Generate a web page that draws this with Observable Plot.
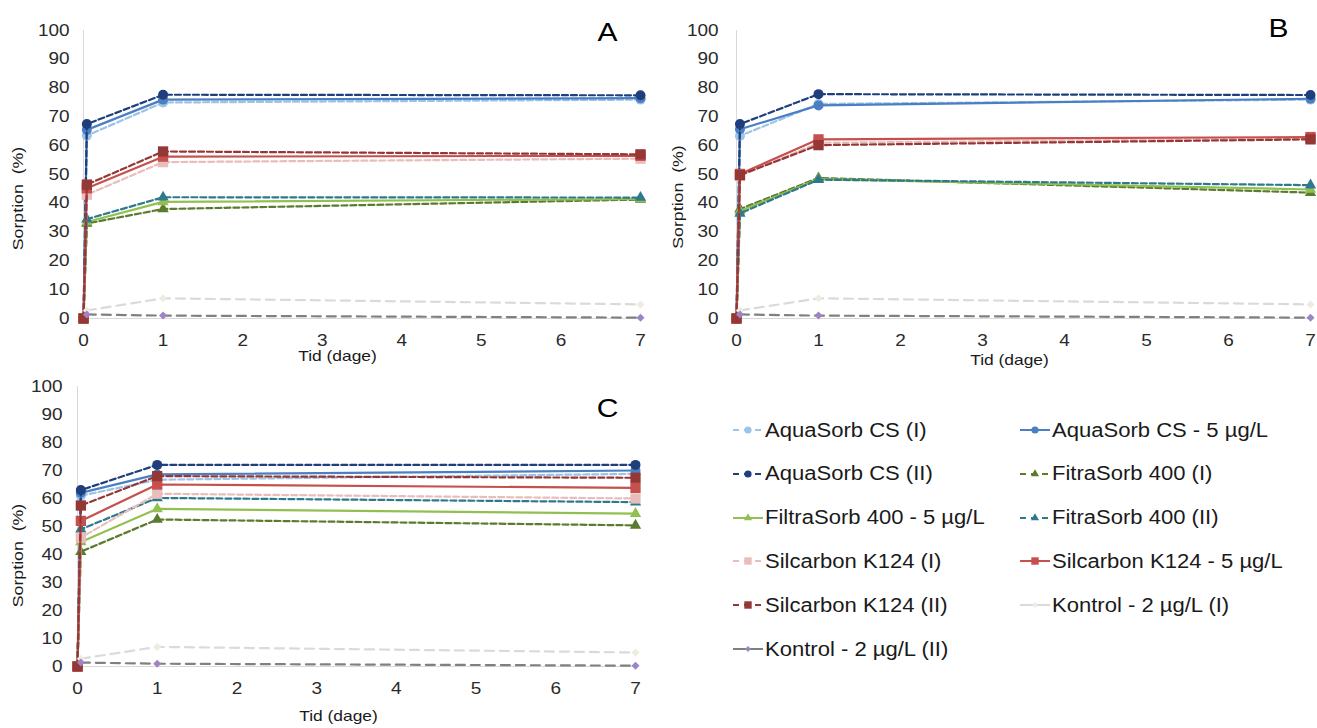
<!DOCTYPE html>
<html><head><meta charset="utf-8">
<script src="https://cdn.jsdelivr.net/npm/d3@7"></script>
<script src="https://cdn.jsdelivr.net/npm/@observablehq/plot@0.6"></script>
<style>
html,body{margin:0;padding:0;background:#fff;}
body{width:1317px;height:728px;position:relative;overflow:hidden;font-family:"Liberation Sans",Arial,sans-serif;}
.panel{position:absolute;}
.panel svg{overflow:visible;}
.item{position:absolute;height:26px;display:flex;align-items:center;white-space:nowrap;}
.item span{display:inline-block;font-size:19.5px;color:#1a1a1a;transform:scaleX(1.13);transform-origin:left center;margin-left:2px;}
</style></head><body>
<div id="pA" class="panel" style="left:0;top:0"></div>
<div id="pB" class="panel" style="left:660px;top:0"></div>
<div id="pC" class="panel" style="left:0;top:370px"></div>
<div id="legend"></div>
<script>
// ---------- data ----------
const seriesNames = ["AquaSorb CS (I)", "AquaSorb CS - 5 µg/L", "AquaSorb CS (II)", "FitraSorb 400 (I)", "FiltraSorb 400 - 5 µg/L", "FitraSorb 400 (II)", "Silcarbon K124 (I)", "Silcarbon K124 - 5 µg/L", "Silcarbon K124 (II)", "Kontrol - 2 µg/L (I)", "Kontrol - 2 µg/L (II)"];
const isKontrol = [false,false,false,false,false,false,false,false,false,true,true];
const times = [0, 0.042, 1, 7];
const kontrolTimes = [0.042, 1, 7];
const xTicks = [0,1,2,3,4,5,6,7];
const yTicks = [0,10,20,30,40,50,60,70,80,90,100];
const panelLetters = ["A","B","C"];
const xTitle = "Tid (dage)";
const yTitle = "Sorption  (%)";

const panelA = [
  [0, 63.5, 75.0, 76.0],
  [0, 65.5, 76.0, 76.5],
  [0, 67.5, 77.7, 77.5],
  [0, 33.0, 38.0, 41.3],
  [0, 33.5, 40.5, 41.5],
  [0, 34.5, 42.1, 42.0],
  [0, 43.0, 54.3, 55.5],
  [0, 45.2, 56.2, 56.5],
  [0, 46.5, 58.0, 57.0],
  [2.8, 7.0, 4.9],
  [1.4, 1.0, 0.3]
];
const panelB = [
  [0, 63.4, 74.5, 76.0],
  [0, 65.7, 74.0, 76.3],
  [0, 67.5, 77.9, 77.6],
  [0, 38.0, 48.8, 43.7],
  [0, 37.3, 48.4, 44.8],
  [0, 36.5, 48.2, 46.3],
  [0, 49.5, 61.0, 62.5],
  [0, 50.2, 62.2, 63.0],
  [0, 49.8, 60.2, 62.2],
  [2.8, 7.0, 4.9],
  [1.4, 1.0, 0.3]
];
const panelC = [
  [0, 61.0, 66.7, 68.8],
  [0, 62.0, 68.6, 70.0],
  [0, 63.0, 72.0, 72.0],
  [0, 41.0, 52.5, 50.4],
  [0, 44.5, 56.3, 54.6],
  [0, 49.0, 60.2, 58.7],
  [0, 46.0, 61.7, 60.0],
  [0, 52.0, 65.0, 63.8],
  [0, 57.5, 68.0, 67.4],
  [2.8, 7.0, 5.0],
  [1.4, 1.0, 0.3]
];

// ---------- styles ----------
const lineColors   = ["#9DC3E6","#4A7FC4","#1F3F7C","#5B7B2F","#92C050","#2E7A8C","#E8BDBC","#C6504D","#953735","#DADADA","#808080"];
const markerColors = ["#9DC3E6","#4A7FC4","#1F3F7C","#5B7B2F","#92C050","#2E7A8C","#E8BDBC","#C6504D","#953735","#EEECE1","#9B85C4"];
const lineDash     = ["6,3",null,"6,3","6,3",null,"6,3","6,3",null,"6,3","9,6","9,6"];
const symbols      = ["circle","circle","circle","triangle","triangle","triangle","square","square","square","diamond2","diamond2"];
const symbolR      = [5.0,5.0,5.0,4.2,4.2,4.2,5.8,5.8,5.8,3.6,3.6];

function stretch(svg, k) {
  svg.querySelectorAll("text").forEach(t => {
    const tr = t.getAttribute("transform") || "";
    if (tr.includes("rotate")) {
      t.setAttribute("transform", tr + ` scale(${k},1)`);
      return;
    }
    const L = t.getComputedTextLength();
    if (L > 0) {
      t.setAttribute("textLength", (L * k).toFixed(2));
      t.setAttribute("lengthAdjust", "spacingAndGlyphs");
    }
  });
}

function makePanel(values, letter, g) {
  const marks = [
    Plot.ruleX([0], {stroke: "#d9d9d9", strokeWidth: 1}),
    Plot.ruleY([0], {stroke: "#d9d9d9", strokeWidth: 1})
  ];
  seriesNames.forEach((name, i) => {
    const ts = isKontrol[i] ? kontrolTimes : times;
    const rows = values[i].map((v, j) => ({name, t: ts[j], v}));
    marks.push(Plot.line(rows, {x: "t", y: "v", stroke: lineColors[i], strokeWidth: 2.2,
      strokeDasharray: lineDash[i] || undefined}));
    marks.push(Plot.dot(rows, {x: "t", y: "v", symbol: symbols[i], r: symbolR[i],
      fill: markerColors[i], stroke: "none"}));
  });
  marks.push(Plot.text([xTitle], {text: d => d, frameAnchor: "bottom", textAnchor: "middle", dx: g.xlx, dy: g.xly, fontSize: 14.5, fill: "#1a1a1a"}));
  marks.push(Plot.text([yTitle], {text: d => d, frameAnchor: "left", textAnchor: "middle", lineAnchor: "middle", rotate: -90, dx: g.ylx, dy: g.yly, fontSize: 14.8, fill: "#1a1a1a"}));
  marks.push(Plot.text([letter], {text: d => d, frameAnchor: "top-right", textAnchor: "middle", lineAnchor: "middle", dx: g.lx, dy: g.ly, fontSize: 25, fill: "#000"}));
  return Plot.plot({
    width: g.width, height: g.height,
    marginLeft: g.ml, marginRight: g.mr, marginTop: g.mt, marginBottom: g.mb,
    style: {fontFamily: "'Liberation Sans', Arial, sans-serif", fontSize: "15.8px", color: "#2a2a2a", background: "transparent", overflow: "visible"},
    x: {domain: [0, 7], ticks: xTicks, tickSize: 0, tickPadding: 16, tickFormat: d => String(d), label: null},
    y: {domain: [0, 100], ticks: yTicks, tickSize: 0, tickPadding: g.ytp, tickFormat: d => String(d), label: null},
    marks
  });
}

const geoms = [
  {el: "pA", width: 660, height: 370, ml: 83, mr: 20, mt: 30, mb: 52, ytp: 14, xlx: -24.5, xly: 42, ylx: -65, yly: 24, lx: -33, ly: 2},
  {el: "pB", width: 657, height: 370, ml: 76, mr: 7, mt: 30, mb: 52, ytp: 18, xlx: -14, xly: 46, ylx: -58, yly: 22.5, lx: -32, ly: -2},
  {el: "pC", width: 660, height: 358, ml: 77, mr: 25, mt: 16, mb: 62, ytp: 15, xlx: -18, xly: 54, ylx: -59, yly: 29, lx: -28, ly: 22}
];
[panelA, panelB, panelC].forEach((vals, p) => {
  const g = geoms[p];
  const chart = makePanel(vals, panelLetters[p], g);
  document.getElementById(g.el).appendChild(chart);
  stretch(chart, 1.2);
});

// ---------- legend ----------
const legend = document.getElementById("legend");
const colSwatchX = [733, 1020];
const symMap = {circle: d3.symbolCircle, triangle: d3.symbolTriangle, square: d3.symbolSquare, diamond2: d3.symbolDiamond2};
seriesNames.forEach((name, i) => {
  const col = i % 2, row = Math.floor(i / 2);
  const yc = 430 + row * 43.8;
  const item = document.createElement("div");
  item.className = "item";
  item.style.left = colSwatchX[col] + "px";
  item.style.top = (yc - 13) + "px";
  const sw = d3.create("svg").attr("width", 30).attr("height", 14);
  sw.append("line").attr("x1", 0).attr("x2", 30).attr("y1", 7).attr("y2", 7)
    .attr("stroke", lineColors[i]).attr("stroke-width", 2)
    .attr("stroke-dasharray", lineDash[i] ? (isKontrol[i] ? "30" : "6,5") : null);
  const rr = symbolR[i] * 0.72;
  sw.append("path").attr("transform", "translate(15,7)")
    .attr("d", d3.symbol(symMap[symbols[i]], Math.PI * rr * rr)())
    .attr("fill", markerColors[i]);
  item.appendChild(sw.node());
  const sp = document.createElement("span");
  sp.textContent = name;
  item.appendChild(sp);
  legend.appendChild(item);
});
</script>
</body></html>
